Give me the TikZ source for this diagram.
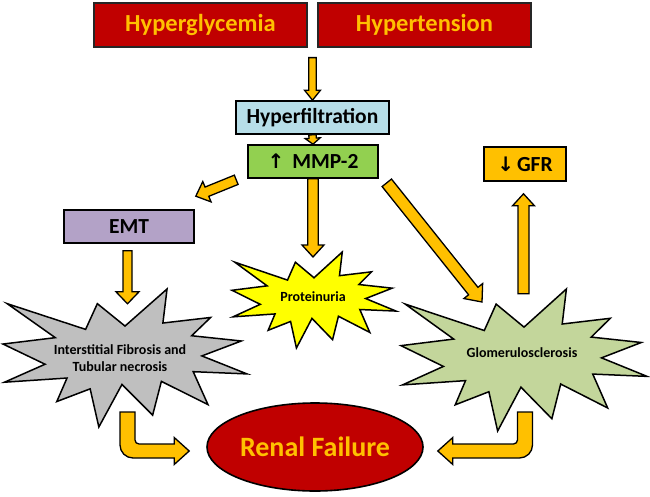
\documentclass[tikz,border=0pt]{standalone}
\usepackage{fontspec}
\setmainfont{Carlito}
\newfontfamily\symfont{DejaVu Sans}
\usetikzlibrary{calc,shapes.geometric}
\definecolor{dred}{RGB}{192,0,0}
\definecolor{gold}{RGB}{255,192,0}
\definecolor{lblue}{RGB}{183,222,232}
\definecolor{lgreen}{RGB}{146,208,80}
\definecolor{lpurple}{RGB}{179,162,199}
\definecolor{lgray}{RGB}{191,191,191}
\definecolor{sgreen}{RGB}{195,214,155}
\definecolor{syellow}{RGB}{255,255,0}
\tikzset{
 box/.style={draw=black, line width=1.6pt, rectangle, inner sep=0pt, font=\bfseries\fontsize{21.5}{24}\selectfont},
 topbox/.style={box, fill=dred, text=gold, minimum width=213pt, minimum height=44pt, font=\bfseries\fontsize{24.5}{28}\selectfont, draw=black!85, line width=1.3pt},
 arr/.style={draw=black, fill=gold, line width=1.3pt, line join=miter},
 starsty/.style={draw=black, line width=1.5pt, line join=miter},
 startext/.style={align=center, font=\bfseries\fontsize{14}{17}\selectfont, inner sep=0pt}
}
% straight block arrow: from, to, half shaft, half head, head length
\newcommand\blockarr[5]{%
 \coordinate (bah) at ($(#2)!#5!(#1)$);
 \draw[arr] ($(#1)!#3!90:(#2)$) -- ($(bah)!#3!90:(#2)$) -- ($(bah)!#4!90:(#2)$) -- (#2)
   -- ($(bah)!#4!-90:(#2)$) -- ($(bah)!#3!-90:(#2)$) -- ($(#1)!#3!-90:(#2)$) -- cycle;}
% bent block arrow: start (top), tip, sign (+1 right / -1 left)
\newcommand\bentarr[3]{%
 \draw[arr] let \p1=(#1), \p2=(#2) in
  ({\x1-(#3)*7.5pt},\y1) [rounded corners=13pt] -- ({\x1-(#3)*7.5pt},{\y2-7pt})
  -- ({(\x1+\x2)/2},{\y2-7pt}) [sharp corners] -- ({\x2-(#3)*15pt},{\y2-7pt})
  -- ({\x2-(#3)*15pt},{\y2-13.5pt}) -- (\x2,\y2) -- ({\x2-(#3)*15pt},{\y2+13.5pt})
  -- ({\x2-(#3)*15pt},{\y2+7pt}) -- ({(\x1+\x2)/2},{\y2+7pt}) [rounded corners=4pt]
  -- ({\x1+(#3)*7.5pt},{\y2+7pt}) -- ({\x1+(#3)*7.5pt},{(\y1+\y2)/2}) [sharp corners]
  -- ({\x1+(#3)*7.5pt},\y1) -- cycle;}
% explosion (irregular seal) in a box: x0, y0, w, h, fill
\newcommand\explosion[5]{%
 \draw[starsty, fill=#5, shift={(#1,#2)}, xscale=#3/216, yscale=#4/216]
  (108,58) -- (145.22,0) -- (141.55,53.25) -- (183.8,44.57) -- (167.02,73.15)
  -- (210.97,81.37) -- (176.07,104.75) -- (216,132.9) -- (168.37,129.42)
  -- (181.45,180.95) -- (140.2,144.57) -- (132.47,197.37) -- (105.32,149.35)
  -- (84.85,216) -- (77.15,156.27) -- (47.62,176.17) -- (56.67,139.37)
  -- (1.35,145.87) -- (37.22,117.75) -- (0,86.15) -- (46.27,76.17)
  -- (3.7,22.95) -- (73.12,63.2) -- (83.52,22.95) -- cycle;}
\begin{document}
\begin{tikzpicture}[x=1pt,y=-1pt]
\useasboundingbox (0,0) rectangle (650,497);
% boxes
\node[topbox] (hg) at (200.5,25) {Hyperglycemia};
\node[topbox] (ht) at (424.5,25) {Hypertension};
\node[box, fill=lblue, minimum width=153pt, minimum height=33pt] (hf) at (312.5,117.5) {Hyperfiltration};
\node[box, fill=lgreen, minimum width=130pt, minimum height=33pt] (mmp) at (313,161.5) {{\symfont\fontsize{20}{22}\selectfont ↑}\hspace{8pt}MMP-2\hspace{6pt}};
\node[box, fill=lpurple, minimum width=130pt, minimum height=33pt] (emt) at (129,226.5) {EMT};
\node[box, fill=gold, minimum width=82pt, minimum height=34pt] (gfr) at (525,164) {{\symfont\fontsize{20}{22}\selectfont ↓}\hspace{3pt}GFR};
% starbursts
\explosion{3}{289}{244}{138}{lgray}
\explosion{232}{252}{164}{96}{syellow}
\explosion{401}{289}{246}{142}{sgreen}
\node[startext] (gray) at (120,358) {Interstitial Fibrosis and\\Tubular necrosis};
\node[startext] (prot) at (313,297) {Proteinuria};
\node[startext] (glom) at (522,353) {Glomerulosclerosis};
% renal failure
\node[ellipse, draw=black, line width=1.6pt, fill=dred, text=gold, minimum width=216pt, minimum height=88pt, inner sep=0pt, font=\bfseries\fontsize{28}{32}\selectfont] (rf) at (315,447) {Renal Failure};
% connector end points
\coordinate (c1) at ($(hg.south east)!0.5!(ht.south west)+(0,10)$);
\coordinate (a3s) at ($(mmp.south west)+(-11,1)$);
\coordinate (a3e) at ($(emt.north east)+(1,-13)$);
\coordinate (a4s) at ($(emt.south)+(-1.5,7)$);
\coordinate (a4e) at ($(emt.south)+(-1.5,60)$);
\coordinate (a5e) at ($(prot)+(0,-40)$);
\coordinate (a6s) at ($(mmp.south east)+(8,4)$);
\coordinate (a6e) at ($(glom)+(-40,-51)$);
\coordinate (a7s) at ($(gfr.south)+(-1.5,112)$);
\coordinate (a7e) at ($(gfr.south)+(-1.5,12)$);
\coordinate (b1s) at ($(gray)+(7.5,54)$);
\coordinate (b1e) at ($(rf.west)+(-17,4)$);
\coordinate (b2s) at ($(glom)+(3,59)$);
\coordinate (b2e) at ($(rf.east)+(14,4)$);
% arrows
\blockarr{c1}{hf.north}{3.7pt}{8pt}{10pt}
\blockarr{hf.south}{mmp.north}{3.7pt}{7.5pt}{6pt}
\blockarr{a3s}{a3e}{5pt}{11pt}{12pt}
\blockarr{a4s}{a4e}{4.5pt}{11.5pt}{12pt}
\blockarr{mmp.south}{a5e}{5.3pt}{11pt}{12pt}
\blockarr{a6s}{a6e}{6pt}{12pt}{14pt}
\blockarr{a7s}{a7e}{5.5pt}{11pt}{12pt}
\bentarr{b1s}{b1e}{1}
\bentarr{b2s}{b2e}{-1}
\end{tikzpicture}
\end{document}
